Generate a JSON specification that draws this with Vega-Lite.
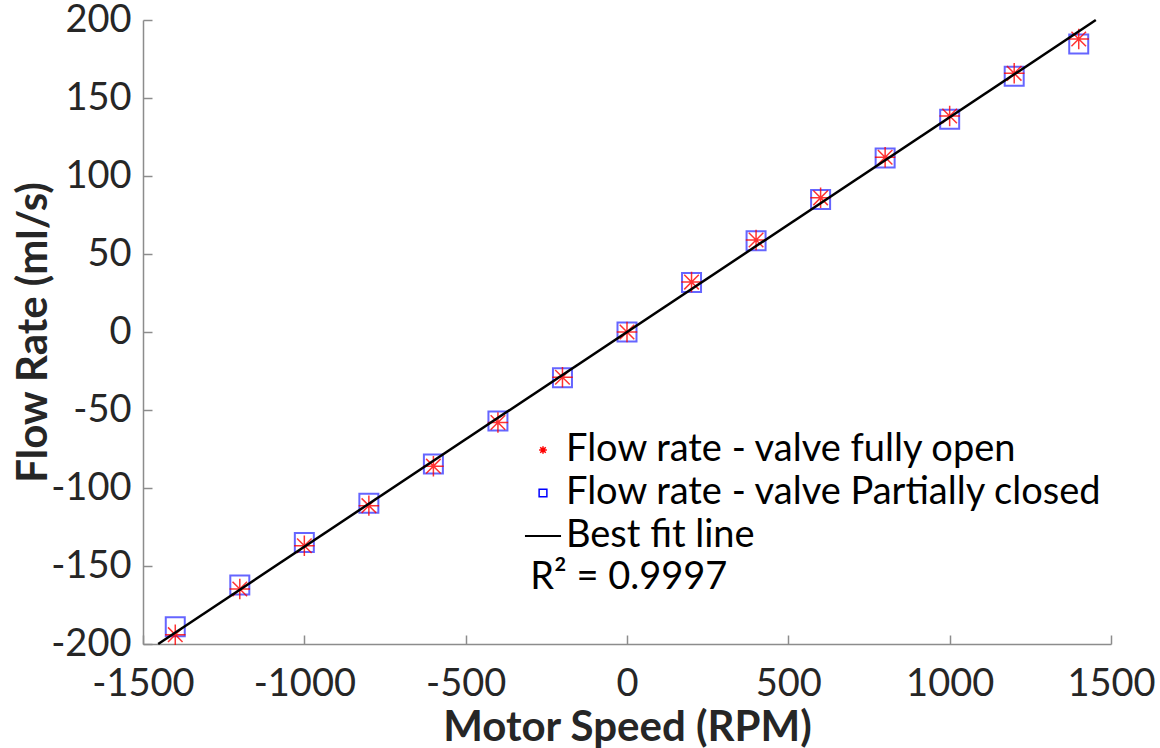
{
  "$schema": "https://vega.github.io/schema/vega-lite/v6.json",
  "autosize": "none",
  "width": 968,
  "height": 624,
  "padding": {"left": 143, "top": 20, "right": 49, "bottom": 104},
  "background": "white",
  "config": {
    "view": {"stroke": null},
    "font": "Lato",
    "axis": {
      "grid": false,
      "domainColor": "#8c8c8c",
      "domainWidth": 1.5,
      "tickColor": "#8c8c8c",
      "tickWidth": 1.5,
      "tickSize": -9,
      "labelColor": "#262626",
      "labelFont": "Lato",
      "labelFontSize": 38,
      "titleFont": "Lato",
      "titleFontSize": 42,
      "titleFontWeight": "bold",
      "titleColor": "#262626"
    }
  },
  "datasets": {
    "open": [
      {"speed": -1400, "flow": -194, "series": "Flow rate - valve fully open"},
      {"speed": -1200, "flow": -164.7, "series": "Flow rate - valve fully open"},
      {"speed": -1000, "flow": -137, "series": "Flow rate - valve fully open"},
      {"speed": -800, "flow": -111.3, "series": "Flow rate - valve fully open"},
      {"speed": -600, "flow": -86, "series": "Flow rate - valve fully open"},
      {"speed": -400, "flow": -58, "series": "Flow rate - valve fully open"},
      {"speed": -200, "flow": -29, "series": "Flow rate - valve fully open"},
      {"speed": 0, "flow": 0, "series": "Flow rate - valve fully open"},
      {"speed": 200, "flow": 32, "series": "Flow rate - valve fully open"},
      {"speed": 400, "flow": 59, "series": "Flow rate - valve fully open"},
      {"speed": 600, "flow": 86, "series": "Flow rate - valve fully open"},
      {"speed": 800, "flow": 112, "series": "Flow rate - valve fully open"},
      {"speed": 1000, "flow": 138.5, "series": "Flow rate - valve fully open"},
      {"speed": 1200, "flow": 165.8, "series": "Flow rate - valve fully open"},
      {"speed": 1400, "flow": 187.8, "series": "Flow rate - valve fully open"}
    ],
    "closed": [
      {"speed": -1400, "flow": -189, "series": "Flow rate - valve Partially closed"},
      {"speed": -1200, "flow": -162.2, "series": "Flow rate - valve Partially closed"},
      {"speed": -1000, "flow": -135, "series": "Flow rate - valve Partially closed"},
      {"speed": -800, "flow": -109.8, "series": "Flow rate - valve Partially closed"},
      {"speed": -600, "flow": -84.6, "series": "Flow rate - valve Partially closed"},
      {"speed": -400, "flow": -57, "series": "Flow rate - valve Partially closed"},
      {"speed": -200, "flow": -29.3, "series": "Flow rate - valve Partially closed"},
      {"speed": 0, "flow": 0, "series": "Flow rate - valve Partially closed"},
      {"speed": 200, "flow": 31.8, "series": "Flow rate - valve Partially closed"},
      {"speed": 400, "flow": 58.5, "series": "Flow rate - valve Partially closed"},
      {"speed": 600, "flow": 85, "series": "Flow rate - valve Partially closed"},
      {"speed": 800, "flow": 111.5, "series": "Flow rate - valve Partially closed"},
      {"speed": 1000, "flow": 136.3, "series": "Flow rate - valve Partially closed"},
      {"speed": 1200, "flow": 164, "series": "Flow rate - valve Partially closed"},
      {"speed": 1400, "flow": 184.6, "series": "Flow rate - valve Partially closed"}
    ],
    "fit": [
      {"speed": -1453, "flow": -200, "series": "Best fit line"},
      {"speed": 1453, "flow": 200, "series": "Best fit line"}
    ],
    "note": [
      {"speed": -300, "flow": -158, "label": "R² = 0.9997"}
    ]
  },
  "encoding": {
    "x": {
      "field": "speed", "type": "quantitative",
      "scale": {"domain": [-1500, 1500], "nice": false, "zero": false},
      "axis": {"title": "Motor Speed (RPM)", "values": [-1500, -1000, -500, 0, 500, 1000, 1500], "labelExpr": "datum.value + ''", "labelPadding": 30, "titlePadding": 4, "labelFlush": false}
    },
    "y": {
      "field": "flow", "type": "quantitative",
      "scale": {"domain": [-200, 200], "nice": false, "zero": false},
      "axis": {"title": "Flow Rate (ml/s)", "values": [-200, -150, -100, -50, 0, 50, 100, 150, 200], "labelExpr": "datum.value + ''", "labelPadding": 21, "titlePadding": -5, "labelFlush": false}
    }
  },
  "layer": [
    {
      "data": {"name": "closed"},
      "mark": {"type": "point", "filled": false, "size": 361, "strokeWidth": 2, "opacity": 0.6},
      "encoding": {
        "color": {"field": "series", "type": "nominal",
          "scale": {"domain": ["Flow rate - valve fully open", "Flow rate - valve Partially closed", "Best fit line"], "range": ["#ff0000", "#0000ff", "#000000"]},
          "legend": {
            "orient": "none", "legendX": 381, "legendY": 411, "title": null,
            "labelFont": "Lato", "labelFontSize": 38, "labelColor": "#000000", "labelOffset": 4,
            "symbolSize": 1300, "symbolStrokeWidth": 1.5, "rowPadding": 5, "labelLimit": 800,
            "encoding": {"symbols": {
              "size": {"value": {"expr": "datum.value === 'Best fit line' ? 1300 : 60"}},
              "strokeWidth": {"value": {"expr": "datum.value === 'Best fit line' ? 2 : 1.5"}},
              "opacity": {"value": 1}
            }}
          }},
        "shape": {"field": "series", "type": "nominal",
          "scale": {"domain": ["Flow rate - valve fully open", "Flow rate - valve Partially closed", "Best fit line"], "range": ["M-1,0L1,0M0,-1L0,1M-0.71,-0.71L0.71,0.71M-0.71,0.71L0.71,-0.71", "square", "stroke"]}}
      }
    },
    {
      "data": {"name": "open"},
      "mark": {"type": "point", "filled": false, "size": 420, "strokeWidth": 1.5, "opacity": 0.8},
      "encoding": {
        "color": {"field": "series", "type": "nominal"},
        "shape": {"field": "series", "type": "nominal"}
      }
    },
    {
      "data": {"name": "fit"},
      "mark": {"type": "line", "strokeWidth": 2.5},
      "encoding": {
        "color": {"field": "series", "type": "nominal"}
      }
    },
    {
      "data": {"name": "note"},
      "mark": {"type": "text", "align": "left", "baseline": "middle", "font": "Lato", "fontSize": 38, "color": "#000000"},
      "encoding": {"text": {"field": "label"}}
    }
  ]
}
